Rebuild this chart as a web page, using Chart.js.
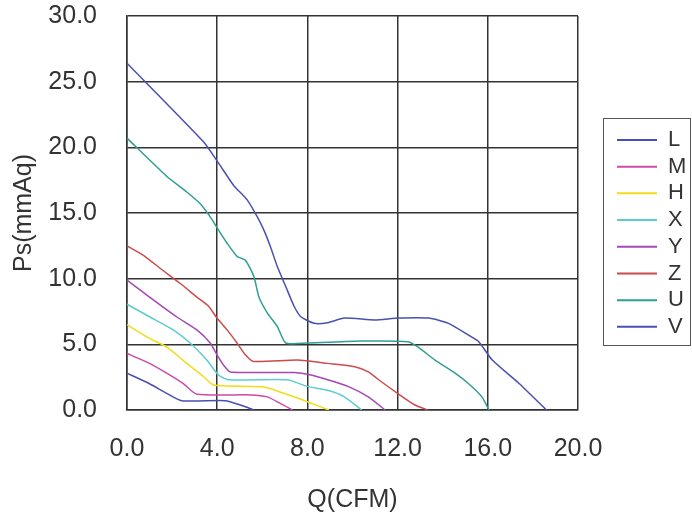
<!DOCTYPE html>
<html>
<head>
<meta charset="utf-8">
<script src="https://cdn.jsdelivr.net/npm/chart.js"></script>
<style>
  body { margin: 0; background: #fff; }
  #wrap { width: 692px; height: 518px; }
</style>
</head>
<body>
<div id="wrap"><canvas id="fanChart" width="692" height="518"></canvas></div>
<script>
// P-Q curves, Q in CFM, Ps in mmAq
const seriesNames = ['L', 'M', 'H', 'X', 'Y', 'Z', 'U', 'V'];
const seriesColors = ['#4a4fae', '#cc4aa8', '#f2dc1a', '#5ccccc', '#a548b4', '#cc4b4b', '#2e9e96', '#4a50b2'];

const lQ = [0, 1.0, 1.76, 2.43, 4.36, 5.03, 5.63];
const lP = [2.8, 2.0, 1.27, 0.71, 0.71, 0.38, 0];

const mQ = [0, 1.0, 1.76, 2.5, 3.1, 5.48, 6.22, 6.8, 7.34];
const mP = [4.3, 3.55, 2.8, 2.0, 1.2, 1.15, 1.0, 0.5, 0];

const hQ = [0, 1.0, 1.76, 2.65, 3.39, 3.84, 6.07, 6.96, 8.0, 8.95];
const hP = [6.5, 5.45, 4.8, 3.55, 2.55, 1.9, 1.75, 1.27, 0.63, 0];

const xQ = [0, 1.0, 2.05, 2.8, 3.54, 4.06, 4.5, 7.1, 8.0, 8.9, 9.64, 10.4];
const xP = [8.05, 7.1, 6.1, 5.1, 3.8, 2.67, 2.3, 2.3, 1.8, 1.5, 1.0, 0];

const yQ = [0, 1.0, 2.2, 3.1, 3.69, 3.99, 4.29, 4.58, 7.4, 8.16, 8.9, 9.8, 10.7, 11.45];
const yP = [9.9, 8.6, 7.1, 6.1, 5.1, 4.2, 3.4, 2.9, 2.85, 2.67, 2.3, 1.8, 1.0, 0];

const zQ = [0, 0.71, 1.54, 2.35, 3.1, 3.62, 3.99, 4.44, 4.88, 5.25, 5.6, 7.56, 8.9, 10.1, 10.7, 11.28, 12.0, 12.77, 13.35];
const zP = [12.5, 11.8, 10.7, 9.65, 8.6, 7.9, 7.0, 6.1, 5.1, 4.2, 3.7, 3.8, 3.55, 3.3, 2.9, 2.15, 1.27, 0.38, 0];

const uQ = [0, 1.76, 2.65, 3.25, 3.69, 4.06, 4.44, 4.88, 5.25, 5.63, 5.85, 6.22, 6.67, 7.04, 8.0, 10.4, 12.47, 12.9, 13.66, 14.55, 15.15, 15.74, 16.05];
const uP = [20.7, 17.8, 16.6, 15.7, 14.7, 13.7, 12.7, 11.7, 11.4, 10.15, 8.6, 7.4, 6.35, 5.1, 5.1, 5.25, 5.2, 4.8, 3.8, 2.8, 2.0, 1.0, 0];

const vQ = [0, 3.4, 4.06, 4.73, 5.33, 5.78, 6.07, 6.37, 6.67, 7.04, 7.41, 7.71, 8.3, 8.9, 9.64, 10.98, 12.03, 13.37, 14.26, 15.15, 15.6, 16.2, 17.4, 18.6];
const vP = [26.4, 20.4, 18.8, 17.1, 16.0, 14.7, 13.7, 12.4, 10.9, 9.4, 7.9, 7.1, 6.6, 6.65, 7.0, 6.85, 7.0, 7.0, 6.6, 5.7, 5.2, 3.8, 2.0, 0];

const qSets = [lQ, mQ, hQ, xQ, yQ, zQ, uQ, vQ];
const pSets = [lP, mP, hP, xP, yP, zP, uP, vP];

const gridColor = '#333';
const textColor = '#333';
const fontFamily = '"Liberation Sans", Arial, sans-serif';
const legendPad = 4.7;

// move the legend to where the original sits and put a frame round it
const legendFrame = {
    id: 'legendFrame',
    afterLayout(chart) {
        const lg = chart.legend;
        const dx = 617 - (lg.left + legendPad);
        lg.left += dx;
        lg.right += dx;
        lg.top -= 33.6;
        lg.bottom -= 33.6;
    },
    afterDraw(chart) {
        const boxes = chart.legend.legendHitBoxes;
        if (!boxes || !boxes.length) return;
        const top = Math.min(...boxes.map(b => b.top));
        const bottom = Math.max(...boxes.map(b => b.top + b.height));
        const left = Math.min(...boxes.map(b => b.left));
        const c = chart.ctx;
        c.save();
        c.strokeStyle = '#555';
        c.lineWidth = 1;
        c.strokeRect(Math.round(left - 14) + 0.5, Math.round(top - 11) + 0.5, 87, Math.round(bottom - top + 18));
        c.restore();
    }
};

const datasets = seriesNames.map(function (name, i) {
    return {
        label: name,
        data: qSets[i].map((q, k) => ({ x: q, y: pSets[i][k] })),
        borderColor: seriesColors[i],
        backgroundColor: seriesColors[i],
        borderWidth: 1.5,
        pointRadius: 0,
        tension: 0.2,
        fill: false
    };
});

const ctx = document.getElementById('fanChart').getContext('2d');
const fanChart = new Chart(ctx, {
    type: 'line',
    data: { datasets: datasets },
    plugins: [legendFrame],
    options: {
        responsive: false,
        animation: false,
        layout: { padding: { top: 16, right: 30, left: 0, bottom: 0 } },
        plugins: {
            tooltip: { enabled: false },
            legend: {
                position: 'right',
                labels: {
                    boxWidth: 40,
                    boxHeight: 2,
                    padding: legendPad,
                    color: textColor,
                    font: { family: fontFamily, size: 22 },
                    generateLabels(chart) {
                        return Chart.defaults.plugins.legend.labels.generateLabels(chart)
                            .map(l => Object.assign(l, { lineWidth: 0 }));
                    }
                }
            }
        },
        scales: {
            x: {
                type: 'linear',
                min: 0,
                max: 20,
                afterFit(scale) {
                    scale.height = 108;
                    scale.paddingLeft = 0;
                    scale.paddingRight = 0;
                },
                ticks: {
                    stepSize: 4,
                    padding: 24,
                    color: textColor,
                    font: { family: fontFamily, size: 25 },
                    callback: v => v.toFixed(1)
                },
                grid: { color: gridColor, lineWidth: 1.5, drawTicks: false },
                border: { color: gridColor, width: 1.5 },
                title: {
                    display: true,
                    text: 'Q(CFM)',
                    color: textColor,
                    font: { family: fontFamily, size: 25 },
                    padding: { top: 0, bottom: 3 }
                }
            },
            y: {
                min: 0,
                max: 30,
                afterFit(scale) {
                    scale.width = 127;
                    scale.paddingTop = 0;
                    scale.paddingBottom = 0;
                },
                ticks: {
                    stepSize: 5,
                    padding: 30,
                    color: textColor,
                    font: { family: fontFamily, size: 25 },
                    callback: v => v.toFixed(1)
                },
                grid: { color: gridColor, lineWidth: 1.5, drawTicks: false },
                border: { color: gridColor, width: 1.5 },
                title: {
                    display: true,
                    text: 'Ps(mmAq)',
                    color: textColor,
                    font: { family: fontFamily, size: 25 },
                    padding: { top: 9, bottom: 0 }
                }
            }
        }
    }
});
</script>
</body>
</html>
